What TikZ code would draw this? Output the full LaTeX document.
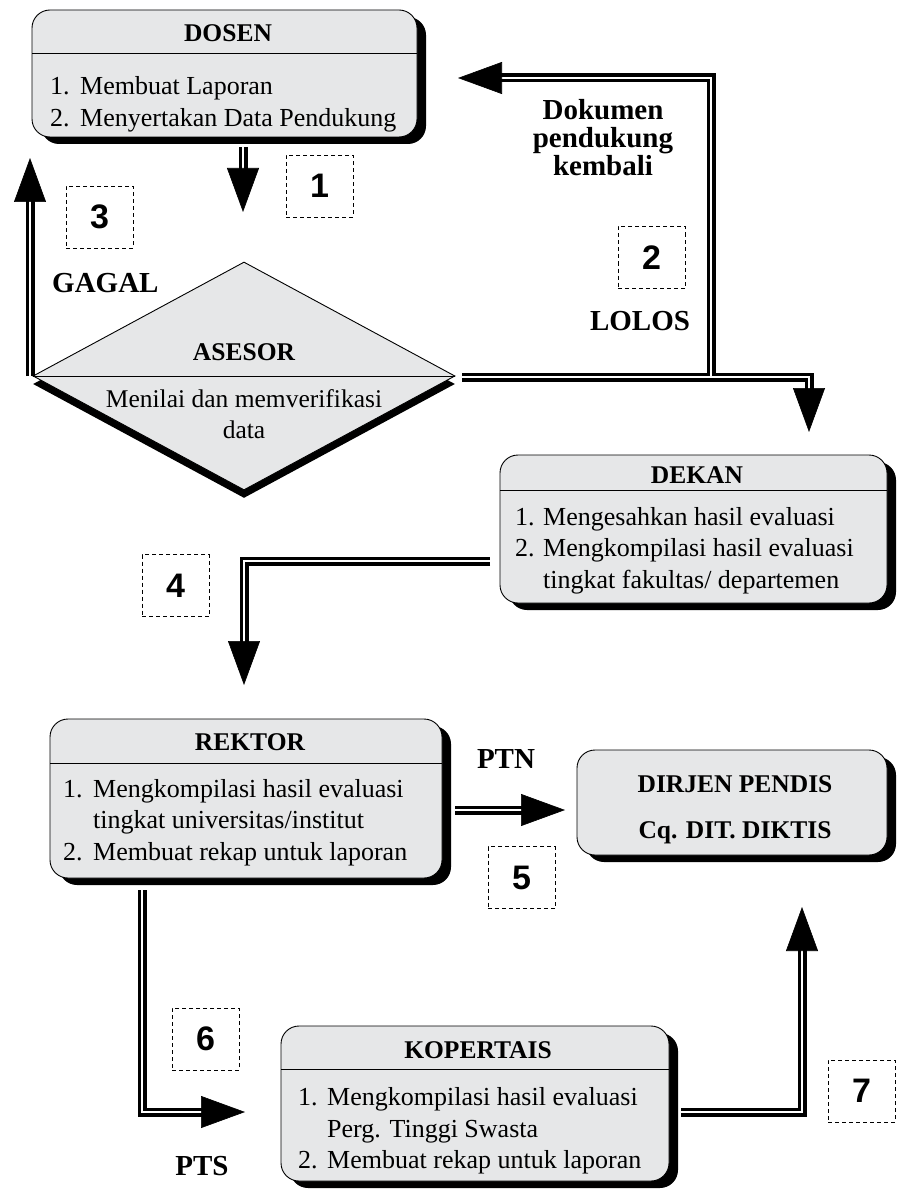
\documentclass[tikz,border=0pt]{standalone}
\usepackage{fontspec}
\setmainfont{Liberation Serif}
\newfontfamily\numfont{Liberation Sans}
\usetikzlibrary{shapes.geometric,shadows,arrows.meta,calc}
\definecolor{boxgray}{RGB}{230,231,232}
\newcommand\dblarrow[1]{\draw[dbl] #1; \draw[tipline] #1;}
\tikzset{
  box/.style={draw, line width=0.9pt, fill=boxgray, rounded corners=18pt, inner sep=0pt,
    drop shadow={shadow xshift=9pt, shadow yshift=-7pt, fill=black, opacity=1}},
  dia/.style={diamond, draw, line width=0.9pt, fill=boxgray, inner sep=0pt,
    drop shadow={shadow xshift=0pt, shadow yshift=-8pt, fill=black, opacity=1}},
  divider/.style={line width=0.9pt},
  bodytxt/.style={font=\fontsize{26}{32}\selectfont, anchor=base west, inner sep=0pt},
  ttl/.style={font=\bfseries\fontsize{25.5}{30}\selectfont, anchor=base, inner sep=0pt},
  dtxt/.style={font=\fontsize{25.5}{30}\selectfont, anchor=base, inner sep=0pt},
  lbl/.style={font=\bfseries\fontsize{29}{28}\selectfont, anchor=base, inner sep=0pt},
  numbox/.style={draw, dashed, dash pattern=on 4pt off 3pt, line width=0.8pt,
    minimum width=67pt, minimum height=62pt, inner sep=0pt,
    font=\numfont\bfseries\fontsize{34}{34}\selectfont},
  dbl/.style={draw=black, double=white, line width=3.2pt, double distance=2.6pt,
    line join=miter, shorten >=40pt},
  tipline/.style={draw=white, line width=0.6pt,
    -{Triangle[length=44pt, width=32pt, color=black, fill=black]}}
}
\begin{document}
\begin{tikzpicture}[x=1pt, y=-1pt]
\useasboundingbox (0,0) rectangle (896,1190);
\fill[white] (0,0) rectangle (896,1190);

% ---------- boxes ----------
\node[box, minimum width=385pt, minimum height=127pt] (dosen) at (224.5,73.5) {};
\draw[divider] (32,53) -- (417,53);
\node[ttl] (dosenT) at (228,42) {DOSEN};
\node[bodytxt] (dosen1) at (50,95) {\makebox[30pt][l]{1.}Membuat Laporan};
\node[bodytxt] (dosen2) at (50,127) {\makebox[30pt][l]{2.}Menyertakan Data Pendukung};

\node[dia, minimum width=422pt, minimum height=228pt] (asesor) at (244,376) {};
\draw[divider] (asesor.west) -- (asesor.east);
\node[ttl] (asesorT) at (244,360) {ASESOR};
\node[dtxt] (asesor1) at (244,407) {Menilai dan memverifikasi};
\node[dtxt] (asesor2) at (244,438) {data};

\node[box, minimum width=387pt, minimum height=148pt] (dekan) at (693.5,529) {};
\draw[divider] (500,490) -- (887,490);
\node[ttl] (dekanT) at (697,483) {DEKAN};
\node[bodytxt] (dekan1) at (515,525) {\makebox[28pt][l]{1.}Mengesahkan hasil evaluasi};
\node[bodytxt] (dekan2) at (515,556) {\makebox[28pt][l]{2.}Mengkompilasi hasil evaluasi};
\node[bodytxt] (dekan3) at (515,588) {\makebox[28pt][l]{}tingkat fakultas/ departemen};

\node[box, minimum width=392pt, minimum height=159pt] (rektor) at (246,798.5) {};
\draw[divider] (50,763) -- (442,763);
\node[ttl] (rektorT) at (250,750) {REKTOR};
\node[bodytxt] (rektor1) at (63,797) {\makebox[30pt][l]{1.}Mengkompilasi hasil evaluasi};
\node[bodytxt] (rektor2) at (63,828) {\makebox[30pt][l]{}tingkat universitas/institut};
\node[bodytxt] (rektor3) at (63,860) {\makebox[30pt][l]{2.}Membuat rekap untuk laporan};

\node[box, minimum width=310pt, minimum height=105pt] (dirjen) at (732,802.5) {};
\node[ttl] (dirjen1) at (735,792) {DIRJEN PENDIS};
\node[ttl] (dirjen2) at (735,838) {Cq. DIT. DIKTIS};

\node[box, minimum width=388pt, minimum height=155pt] (kopertais) at (475,1103.5) {};
\draw[divider] (281,1069) -- (669,1069);
\node[ttl] (kopT) at (478,1058) {KOPERTAIS};
\node[bodytxt] (kop1) at (298,1105) {\makebox[29pt][l]{1.}Mengkompilasi hasil evaluasi};
\node[bodytxt] (kop2) at (298,1137) {\makebox[29pt][l]{}Perg. Tinggi Swasta};
\node[bodytxt] (kop3) at (298,1168) {\makebox[29pt][l]{2.}Membuat rekap untuk laporan};

% ---------- number boxes ----------
\node[numbox] (n1) at (319.5,186) {1};
\node[numbox] (n2) at (651.5,257.5) {2};
\node[numbox] (n3) at (99.5,217) {3};
\node[numbox] (n4) at (175.5,585.5) {4};
\node[numbox] (n5) at (521.5,877.5) {5};
\node[numbox] (n6) at (205.5,1039) {6};
\node[numbox] (n7) at (861.5,1091) {7};

% ---------- labels ----------
\node[lbl, anchor=base west] (gagal) at (52,292) {GAGAL};
\node[lbl] (dok1) at (603,120) {Dokumen};
\node[lbl] (dok2) at (603,148) {pendukung};
\node[lbl] (dok3) at (603,176) {kembali};
\node[lbl] (lolos) at (640,330) {LOLOS};
\node[lbl] (ptn) at (506,768) {PTN};
\node[lbl] (pts) at (202,1175) {PTS};

% ---------- connector end points ----------
\coordinate (c1s) at (243,147);  \coordinate (c1e) at (243,212);
\coordinate (c3s) at (30,376);   \coordinate (c3e) at (30,158);
\coordinate (c2s) at (462,377);  \coordinate (c2m) at (809,377);  \coordinate (c2e) at (809,432);
\coordinate (c2j) at (711,375.7); \coordinate (c2k) at (711,78);  \coordinate (c2f) at (458,78);
\coordinate (c4s) at (490,561);  \coordinate (c4m) at (244,561);  \coordinate (c4e) at (244,685);
\coordinate (c5s) at (455,810);  \coordinate (c5e) at (565,810);
\coordinate (c6s) at (142,890);  \coordinate (c6m) at (142,1112); \coordinate (c6e) at (245,1112);
\coordinate (c7s) at (681,1112); \coordinate (c7m) at (802,1112); \coordinate (c7e) at (802,907);

% ---------- connectors ----------
\dblarrow{(c1s) -- (c1e)}
\dblarrow{(c3s) -- (c3e)}
\dblarrow{(c2s) -- (c2m) -- (c2e)}
\dblarrow{(c2j) -- (c2k) -- (c2f)}
\dblarrow{(c4s) -- (c4m) -- (c4e)}
\dblarrow{(c5s) -- (c5e)}
\dblarrow{(c6s) -- (c6m) -- (c6e)}
\dblarrow{(c7s) -- (c7m) -- (c7e)}
\end{tikzpicture}
\end{document}
